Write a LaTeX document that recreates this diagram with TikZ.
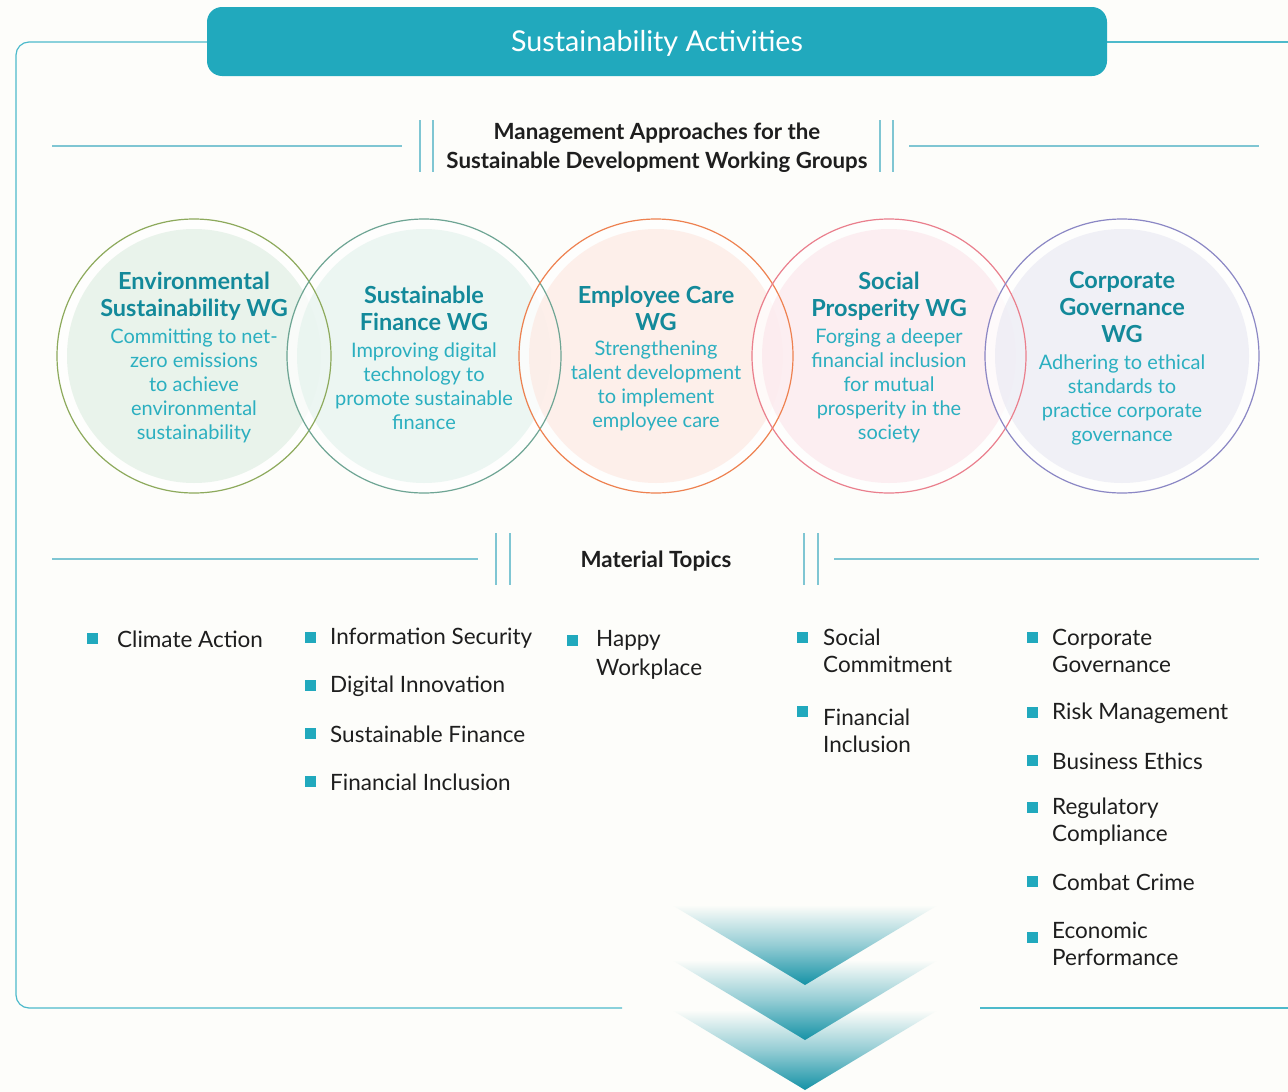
\documentclass[tikz,border=0pt]{standalone}
\usepackage{fontspec}
\setmainfont{Lato}
\usetikzlibrary{calc}

\definecolor{bg}{HTML}{FDFDFA}
\definecolor{teal}{HTML}{21A9BD}
\definecolor{darkteal}{HTML}{13899A}
\definecolor{bodyteal}{HTML}{2BAFC0}
\definecolor{rulec}{HTML}{7FC6D3}
\definecolor{framec}{HTML}{4DBACB}
\definecolor{ink}{HTML}{1E1E1E}
\definecolor{chevtop}{HTML}{1592A6}
% circle strokes and fills
\definecolor{sA}{HTML}{8DAA5C}\definecolor{fA}{HTML}{DCECDF}
\definecolor{sB}{HTML}{6EA594}\definecolor{fB}{HTML}{E1F1EB}
\definecolor{sC}{HTML}{EE8150}\definecolor{fC}{HTML}{FDE6DE}
\definecolor{sD}{HTML}{EA7F8D}\definecolor{fD}{HTML}{FBE4E9}
\definecolor{sE}{HTML}{8B87C5}\definecolor{fE}{HTML}{E7E7F2}

\tikzset{
  rulel/.style={draw=rulec, line width=1.6pt},
  barl/.style={draw=rulec, line width=1.4pt},
  framel/.style={draw=framec, line width=1.2pt},
  wgtitle/.style={inner sep=0pt, align=center, text=darkteal,
    font=\fontsize{23.5}{27}\selectfont\bfseries},
  wgbody/.style={inner sep=0pt, align=center, text=bodyteal,
    font=\fontsize{20}{24}\selectfont},
  heading/.style={inner sep=0pt, align=center, text=ink,
    font=\fontsize{22.3}{29}\selectfont\bfseries},
  topic/.style={inner sep=0pt, anchor=west, align=left, text=ink,
    font=\fontsize{22.5}{27}\selectfont},
  bul/.style={fill=teal, inner sep=0pt, minimum size=11pt},
  chev/.style={shading=axis, top color=bg, bottom color=chevtop, middle color=chevtop!45!bg},
}

\begin{document}
\begin{tikzpicture}[x=1pt,y=-1pt]
\useasboundingbox (0,0) rectangle (1288,1092);
\fill[bg] (0,0) rectangle (1288,1092);

% outer frame
\draw[framel, rounded corners=13pt] (207,42) -- (16,42) -- (16,1008) -- (622,1008);
\draw[framel] (980,1008) -- (1288,1008);
\draw[framel] (1107,42) -- (1288,42);

% title banner
\node[fill=teal, rounded corners=15pt, minimum width=900pt, minimum height=69pt,
      inner sep=0pt] (title) at (657,41.5) {};
\node[inner sep=0pt, text=white, font=\fontsize{28.7}{32}\selectfont] (titletext) at (657,43)
      {Sustainability Activities};

% heading: management approaches
\node[heading] (mgmt) at (657,148) {Management Approaches for the\\Sustainable Development Working Groups};
\draw[rulel] (52,146) -- (402,146);
\draw[barl] (420,120) -- (420,172);
\draw[barl] (433,120) -- (433,172);
\draw[barl] (880,120) -- (880,172);
\draw[barl] (893,120) -- (893,172);
\draw[rulel] (909,146) -- (1259,146);

% working group circles: halo, tinted disc, ring
\foreach \cx/\f in {194/fA,424/fB,656/fC,889/fD,1122/fE}{
  \fill[white, opacity=0.75] (\cx,356) circle[radius=136pt];
  \fill[\f, opacity=0.6] (\cx,356) circle[radius=127pt];
}
\foreach \cx/\s in {194/sA,424/sB,656/sC,889/sD,1122/sE}{
  \draw[\s, line width=1.2pt] (\cx,356) circle[radius=137pt];
}

\node[wgtitle] (t1) at (194,296) {Environmental\\Sustainability WG};
\node[wgbody]  (b1) at (194,386) {Committing to net-\\zero emissions\\to achieve\\environmental\\sustainability};
\node[wgtitle] (t2) at (424,308) {Sustainable\\Finance WG};
\node[wgbody]  (b2) at (424,386) {Improving digital\\technology to\\promote sustainable\\finance};
\node[wgtitle] (t3) at (656,308) {Employee Care\\WG};
\node[wgbody]  (b3) at (656,386) {Strengthening\\talent development\\to implement\\employee care};
\node[wgtitle] (t4) at (889,296) {Social\\Prosperity WG};
\node[wgbody]  (b4) at (889,386) {Forging a deeper\\financial inclusion\\for mutual\\prosperity in the\\society};
\node[wgtitle] (t5) at (1122,307) {Corporate\\Governance\\WG};
\node[wgbody]  (b5) at (1122,399.5) {Adhering to ethical\\standards to\\practice corporate\\governance};

% heading: material topics
\node[heading] (mt) at (656,561) {Material Topics};
\draw[rulel] (52,559) -- (478,559);
\draw[barl] (496,533) -- (496,585);
\draw[barl] (510,533) -- (510,585);
\draw[barl] (804,533) -- (804,585);
\draw[barl] (818,533) -- (818,585);
\draw[rulel] (834,559) -- (1259,559);

% topic lists
\node[bul] (q1) at (92,638) {};
\node[topic] (p1) at (117,639) {Climate Action};

\node[bul] (q2) at (310,637) {};
\node[topic] (p2) at (330,638) {Information Security};
\node[bul] (q3) at (310,685) {};
\node[topic] (p3) at (330,686) {Digital Innovation};
\node[bul] (q4) at (310,733) {};
\node[topic] (p4) at (330,734) {Sustainable Finance};
\node[bul] (q5) at (310,781) {};
\node[topic] (p5) at (330,782) {Financial Inclusion};

\node[bul] (q6) at (572,640) {};
\node[topic, font=\fontsize{22.5}{29}\selectfont] (p6) at (596,655) {Happy\\Workplace};

\node[bul] (q7) at (802,637) {};
\node[topic] (p7) at (823,651) {Social\\Commitment};
\node[bul] (q8) at (802,711) {};
\node[topic] (p8) at (823,731) {Financial\\Inclusion};

\node[bul] (q9) at (1032,637) {};
\node[topic] (p9) at (1052,651) {Corporate\\Governance};
\node[bul] (q10) at (1032,712) {};
\node[topic] (p10) at (1052,713) {Risk Management};
\node[bul] (q11) at (1032,760) {};
\node[topic] (p11) at (1052,761) {Business Ethics};
\node[bul] (q12) at (1032,807) {};
\node[topic] (p12) at (1052,822) {Regulatory\\Compliance};
\node[bul] (q13) at (1032,881) {};
\node[topic] (p13) at (1052,882) {Combat Crime};
\node[bul] (q14) at (1032,937) {};
\node[topic] (p14) at (1052,944) {Economic\\Performance};

% stacked chevrons, lowest first
\path[chev] (672,1010) -- (938,1010) -- (805,1090) -- cycle;
\path[chev] (672,960) -- (938,960) -- (805,1040) -- cycle;
\path[chev] (672,905) -- (938,905) -- (805,985) -- cycle;
\end{tikzpicture}
\end{document}
